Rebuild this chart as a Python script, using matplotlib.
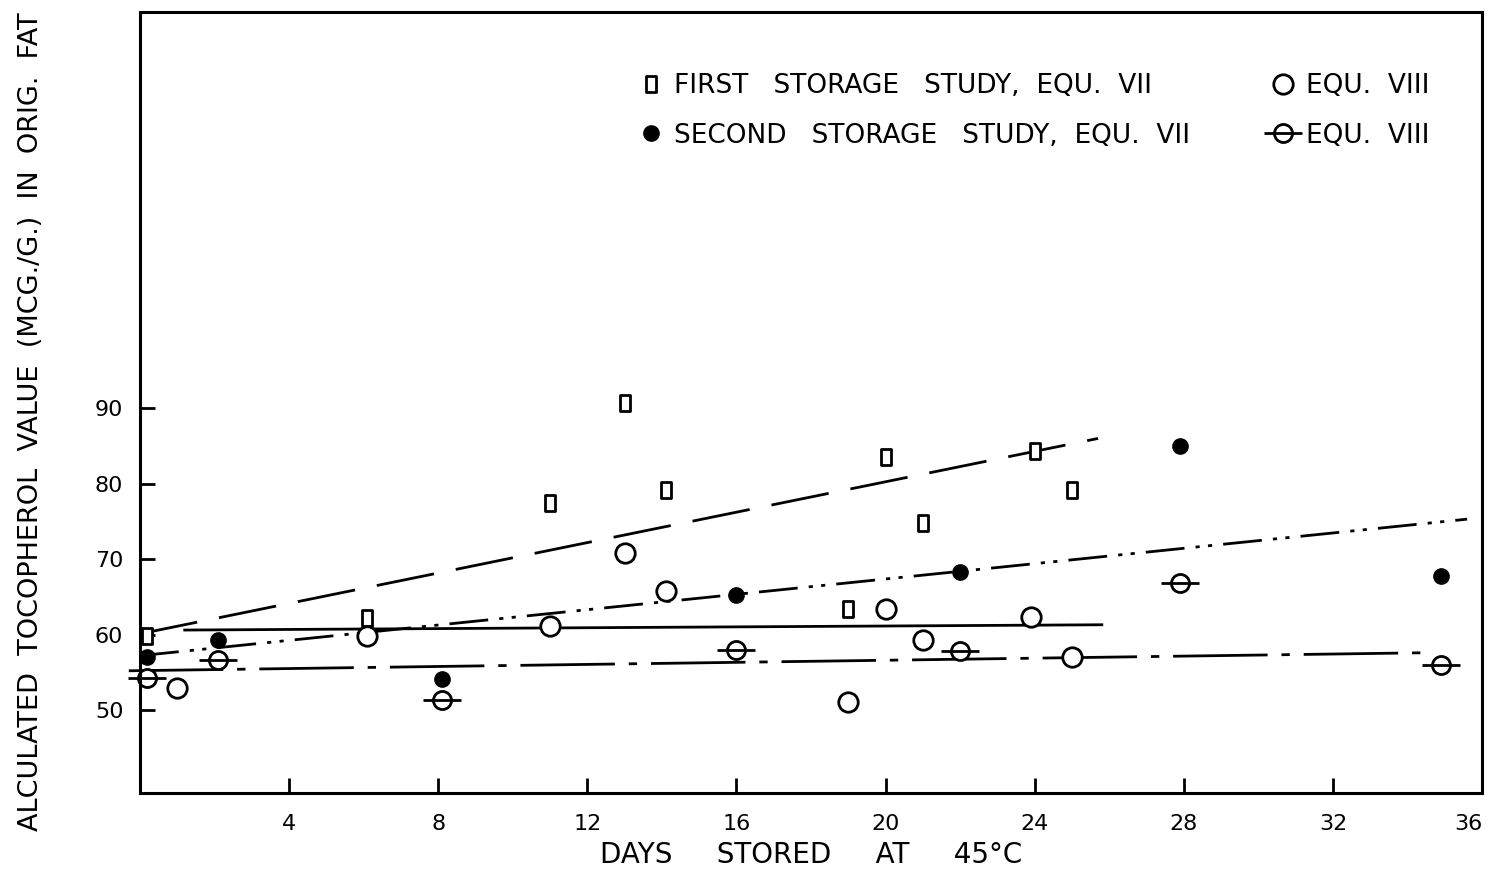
import numpy as np
import matplotlib.pyplot as plt
from matplotlib.path import Path

plt.rcParams['lines.scale_dashes'] = False
plt.rcParams['font.family'] = ['DejaVu Sans']

# first storage study, equ. VII (open squares)
sq_days = [0.2, 6.1, 11.0, 13.0, 14.1, 19.0, 20.0, 21.0, 24.0, 25.0]
sq_vals = [59.8, 62.2, 77.4, 90.7, 79.1, 63.4, 83.6, 74.8, 84.4, 79.1]
# second storage study, equ. VII (filled circles)
dot_days = [0.2, 2.1, 8.1, 16.0, 22.0, 27.9, 34.9]
dot_vals = [57.0, 59.3, 54.1, 65.2, 68.3, 85.0, 67.7]
# equ. VIII, first study (open circles)
circ_days = [1.0, 6.1, 11.0, 13.0, 14.1, 19.0, 20.0, 21.0, 23.9, 25.0]
circ_vals = [52.9, 59.8, 61.1, 70.8, 65.8, 51.1, 63.4, 59.3, 62.3, 57.0]
# equ. VIII, second study (barred circles)
theta_days = [0.2, 2.1, 8.1, 16.0, 22.0, 27.9, 34.9]
theta_vals = [54.2, 56.6, 51.3, 58.0, 57.8, 66.8, 56.0]

# fitted lines (end points)
fit1_x, fit1_y = [0, 25.7], [60.1, 86.0]
fit2_x, fit2_y = [0, 35.6], [57.2, 75.3]
fit3_x, fit3_y = [1.2, 25.8], [60.6, 61.3]
fit4_x, fit4_y = [-0.3, 34.6], [55.2, 57.6]

xticks = [4, 8, 12, 16, 20, 24, 28, 32, 36]
yticks = [50, 60, 70, 80, 90]

rect = Path([(-0.33, -0.5), (0.33, -0.5), (0.33, 0.5), (-0.33, 0.5), (-0.33, -0.5)],
            [Path.MOVETO, Path.LINETO, Path.LINETO, Path.LINETO, Path.CLOSEPOLY])

fig = plt.figure(figsize=(14.91, 8.72), dpi=100)
ax = fig.add_axes([0.0939, 0.0906, 0.9001, 0.8954])

ax.plot(fit1_x, fit1_y, color='black', lw=2, dashes=(42, 16))
ax.plot(fit2_x, fit2_y, color='black', lw=2, dashes=(28, 8, 3, 6, 3, 8))
ax.plot(fit3_x, fit3_y, color='black', lw=2)
ax.plot(fit4_x, fit4_y, color='black', lw=2, dashes=(68, 10, 6, 10), clip_on=False)

sq, = ax.plot(sq_days, sq_vals, ls='none', marker=rect, ms=11, mfc='white',
              mec='black', mew=2, clip_on=False)
dot, = ax.plot(dot_days, dot_vals, ls='none', marker='o', ms=11, mfc='black',
               mec='black', clip_on=False)
circ, = ax.plot(circ_days, circ_vals, ls='none', marker='o', ms=14, mfc='white',
                mec='black', mew=2, clip_on=False)
th1, = ax.plot(theta_days, theta_vals, ls='none', marker='o', ms=13, mfc='white',
               mec='black', mew=2, clip_on=False)
th2, = ax.plot(theta_days, theta_vals, ls='none', marker='_', ms=27, mec='black',
               mew=2, clip_on=False)

ax.set_xlim(0, 36)
ax.set_ylim(39, 142.5)
ax.set_xticks(xticks)
ax.set_yticks(yticks)
ax.tick_params(direction='in', length=11, width=2, labelsize=16)
ax.tick_params(axis='x', pad=15)
ax.tick_params(axis='y', pad=12)
ax.get_xticklabels()[-1].set_ha('right')
for s in ax.spines.values():
    s.set_linewidth(2.2)

ax.set_xlabel('DAYS     STORED     AT     45°C', fontsize=20, labelpad=5)
fig.text(0.021, 0.516, 'ALCULATED  TOCOPHEROL  VALUE  (MCG./G.)  IN  ORIG.  FAT',
         rotation=90, fontsize=19.5, ha='center', va='center')

ax.legend([sq, dot, circ, (th1, th2)],
          ['FIRST   STORAGE   STUDY,  EQU.  VII', 'SECOND   STORAGE   STUDY,  EQU.  VII',
           'EQU.  VIII', 'EQU.  VIII'],
          ncol=2, frameon=False, fontsize=19, loc='upper left',
          bbox_to_anchor=(0.354, 0.952), handlelength=0.9, handletextpad=0.42,
          columnspacing=3.1, labelspacing=0.88)

fig.savefig('out.png', dpi=100)
